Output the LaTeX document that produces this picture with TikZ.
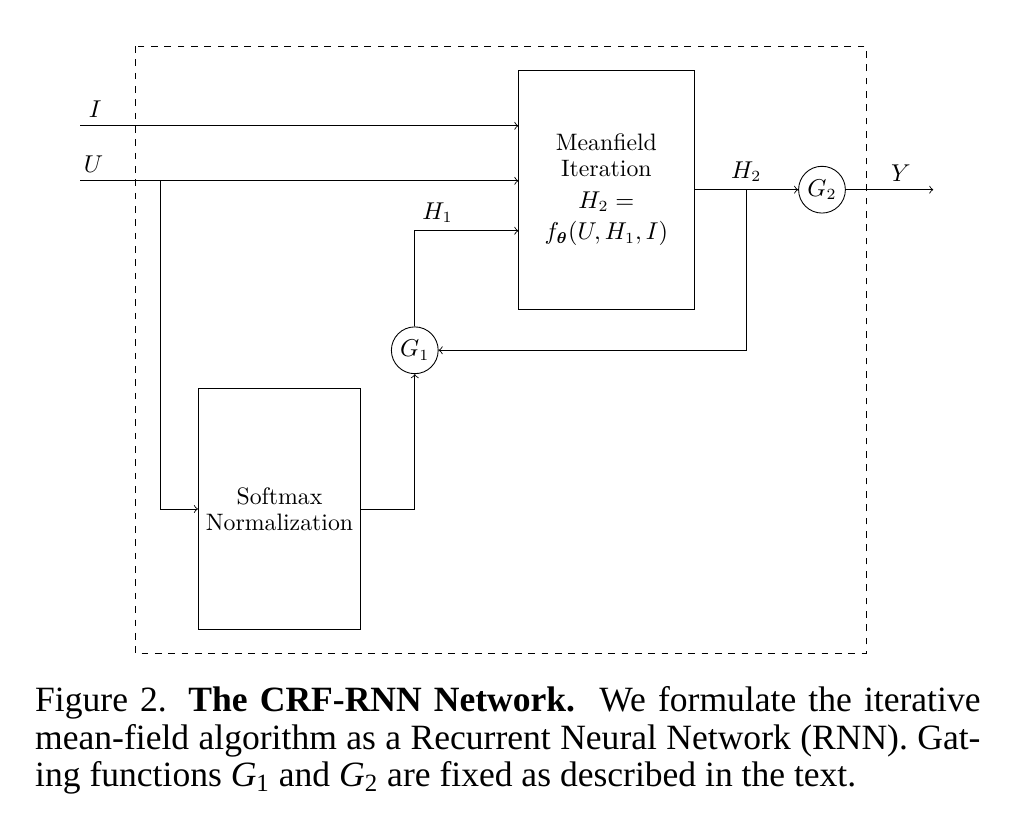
\documentclass[tikz,border=0pt]{standalone}
\usepackage{amsmath}
\usepackage{amssymb}
\usepackage{fontspec}
\newfontfamily\capfont{Liberation Serif}
\usepackage{tikz}
\usetikzlibrary{calc}
\usetikzlibrary{positioning}
\tikzset{block/.style={draw=black,align=center,font=\fontsize{10.7}{11.7}\selectfont}}
\tikzset{gate/.style={draw=black,circle,inner sep=0pt,minimum size=7.4mm,
    font=\fontsize{10.7}{11.7}\selectfont}}
\tikzset{arrow/.style={->}}
\tikzset{sig/.style={above,font=\fontsize{10.7}{11.7}\selectfont}}
\newcommand{\dframe}{
    \draw[dashed] (2.14,-0.73) rectangle (13.70,-10.33);
}

\begin{document}
\begin{tikzpicture}
        \useasboundingbox (0,0) rectangle (16.10,-13.06);
        \dframe

        \node[block,minimum width=2.77cm,minimum height=3.78cm] (mfi) at (9.59,-3.00)
            {Meanfield\\Iteration\\[2.5pt]$H_2 =$\\[2.5pt]$f_{\boldsymbol{\theta}}(U, H_1, I)$};
        \node[block,minimum width=2.52cm,minimum height=3.80cm] (smn) at (4.42,-8.05)
            {Softmax\\Normalization};
        \node[gate] (gt1) at (6.56,-5.54) {$G_1$};
        \node[gate] (gt2) at (13.00,-3.00) {$G_2$};

        \coordinate (iin) at (1.27,-1.99);
        \coordinate (uin) at (1.27,-2.86);
        \coordinate (ubr) at (2.53,-2.86);
        \coordinate (fbk) at (11.80,-3.00);
        \coordinate (yout) at (14.76,-3.00);

        \draw[arrow] (iin) -- (iin -| mfi.west) node[pos=0.034,sig] (lbi) {$I$};
        \draw[arrow] (uin) -- (uin -| mfi.west) node[pos=0.03,sig] (lbu) {$U$};
        \draw[arrow] (ubr) |- (smn.west);
        \draw[arrow] (smn.east) -| (gt1.south);
        \draw[arrow] (gt1.north) |- (mfi.west |- 0,-3.65)
            node[pos=0.61,sig] (lbh1) {$H_1$};
        \draw[arrow] (mfi.east) -- (gt2.west) node[midway,sig] (lbh2) {$H_2$};
        \draw[arrow] (fbk) |- (gt1.east);
        \draw[arrow] (gt2.east) -- (yout) node[pos=0.63,sig] (lby) {$Y$};

        \node[anchor=base west,text width=14.95cm,inner sep=0pt,align=justify,
            font=\capfont\fontsize{16}{16.7}\selectfont] (cap) at (0.55,-11.26)
            {\tolerance=10000 Figure 2. \textbf{The CRF-RNN Network.}\ \ We formulate the
            iterative\linebreak mean-field algorithm as a Recurrent Neural Network
            (RNN). Gat-\linebreak ing functions \textit{G}\textsubscript{1} and
            \textit{G}\textsubscript{2} are fixed as described in the text.};
    \end{tikzpicture}
\end{document}
